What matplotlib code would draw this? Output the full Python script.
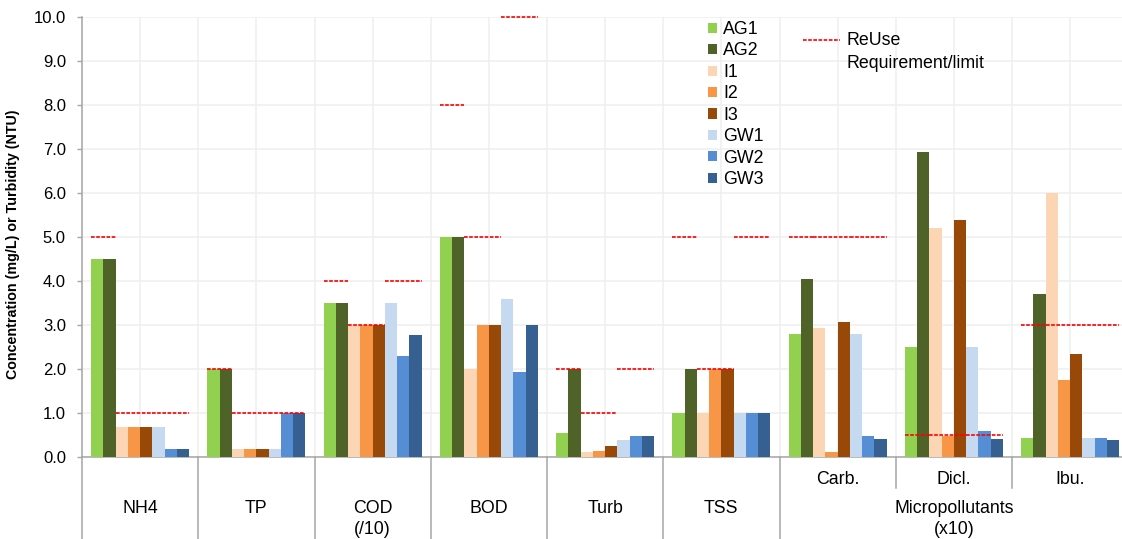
import numpy as np
import matplotlib
matplotlib.use("Agg")
import matplotlib.pyplot as plt
from matplotlib.lines import Line2D
from matplotlib.transforms import blended_transform_factory

plt.rcParams["font.family"] = ["Liberation Sans", "DejaVu Sans"]

# Parameters (COD shown /10, micropollutants shown x10)
categories = ["NH4", "TP", "COD\n(/10)", "BOD", "Turb", "TSS", "Carb.", "Dicl.", "Ibu."]
micro_label = "Micropollutants\n(x10)"
n_main = 6  # first six categories are single-level; the rest sit under the micropollutant group

series_names = ["AG1", "AG2", "I1", "I2", "I3", "GW1", "GW2", "GW3"]
ag1 = [4.5, 2.0, 3.5, 5.0, 0.55, 1.0, 2.8, 2.5, 0.43]
ag2 = [4.5, 2.0, 3.5, 5.0, 2.0, 2.0, 4.05, 6.93, 3.72]
i1 = [0.7, 0.2, 3.0, 2.0, 0.13, 1.0, 2.95, 5.2, 6.0]
i2 = [0.7, 0.2, 3.0, 3.0, 0.15, 2.0, 0.12, 0.48, 1.75]
i3 = [0.7, 0.2, 3.0, 3.0, 0.26, 2.0, 3.08, 5.4, 2.35]
gw1 = [0.7, 0.2, 3.5, 3.6, 0.4, 1.0, 2.8, 2.5, 0.43]
gw2 = [0.2, 1.0, 2.3, 1.95, 0.49, 1.0, 0.48, 0.6, 0.43]
gw3 = [0.2, 1.0, 2.78, 3.0, 0.49, 1.0, 0.42, 0.42, 0.4]

# Reuse requirement / limit for each water type
ag_limit = [5.0, 2.0, 4.0, 8.0, 2.0, 5.0, 5.0, 0.5, 3.0]
i_limit = [1.0, 1.0, 3.0, 5.0, 1.0, 2.0, 5.0, 0.5, 3.0]
gw_limit = [1.0, 1.0, 4.0, 10.0, 2.0, 5.0, 5.0, 0.5, 3.0]

y_ticks = np.arange(0, 10.01, 1.0)

colors = ["#92D050", "#4F6228", "#FCD5B4", "#F79646", "#984807",
          "#C5D9F1", "#558ED5", "#366092"]
series = [ag1, ag2, i1, i2, i3, gw1, gw2, gw3]

W, H = 1122, 539
fig = plt.figure(figsize=(W / 100, H / 100), dpi=100)
ax = fig.add_axes([82 / W, (H - 457.3) / H, 1046.25 / W, 440 / H])

x = np.arange(len(categories))
bw = 0.843 / len(series)
offsets = (np.arange(len(series)) - (len(series) - 1) / 2) * bw

bars = []
for k, (vals, c, name) in enumerate(zip(series, colors, series_names)):
    b = ax.bar(x + offsets[k], vals, width=bw, color=c, label=name, zorder=3,
               linewidth=0)
    bars.append(b)

# Limit segments: AG over bars 0-1, I over bars 2-4, GW over bars 5-7
red = "#FF0000"
spans = [(0, 1, ag_limit), (2, 4, i_limit), (5, 7, gw_limit)]
for lo, hi, lim in spans:
    ax.hlines(lim, x + offsets[lo] - bw / 2, x + offsets[hi] + bw / 2,
              colors=red, linestyles=(0, (2.2, 0.9)), linewidth=1.2,
              zorder=5, clip_on=False)

ax.set_xlim(-0.5, len(categories) - 0.5)
ax.set_ylim(0, 10)
ax.set_yticks(y_ticks)
ax.set_yticklabels([f"{v:.1f}" for v in y_ticks], fontsize=12, color="#000000")
ax.tick_params(axis="y", direction="out", length=3.6, width=1, color="#A6A6A6", pad=8)
ax.set_xticks([])
ax.set_xticks(np.arange(-0.5, len(categories) - 0.4, 0.5), minor=True)
ax.tick_params(axis="x", which="both", length=0, labelbottom=False)

ax.grid(axis="y", which="major", color="#EFEFEF", linewidth=1.1, zorder=0)
ax.grid(axis="x", which="minor", color="#EFEFEF", linewidth=1.1, zorder=0)
ax.set_axisbelow(True)

for s in ["top", "right"]:
    ax.spines[s].set_visible(False)
for s in ["left", "bottom"]:
    ax.spines[s].set_color("#A6A6A6")
    ax.spines[s].set_linewidth(1.1)

ax.set_ylabel("Concentration (mg/L) or Turbidity (NTU)", fontsize=10.3,
              fontweight="bold", labelpad=14)
ax.yaxis.set_label_coords(-0.059, 0.485)

# Multi-level category axis below the plot
tr = blended_transform_factory(ax.transData, ax.transAxes)
y_bottom = -81.7 / 440
y_sub = -(488 - 457.3) / 440
sep_kw = dict(color="#A6A6A6", linewidth=1.1, transform=tr, clip_on=False)
for b in np.arange(-0.5, n_main + 0.5, 1.0):
    ax.add_line(Line2D([b, b], [0, y_bottom], **sep_kw))
for b in np.arange(n_main + 0.5, len(categories) - 0.5, 1.0):
    ax.add_line(Line2D([b, b], [0, y_sub], **sep_kw))

lab_kw = dict(transform=tr, ha="center", va="top", fontsize=12.8,
              linespacing=1.28, clip_on=False)
for i, name in enumerate(categories[:n_main]):
    ax.text(i, -(500 - 457.3) / 440, name, **lab_kw)
for i, name in enumerate(categories[n_main:], start=n_main):
    ax.text(i, -(471 - 457.3) / 440, name, **lab_kw)
ax.text((n_main + len(categories) - 1) / 2, -(500 - 457.3) / 440, micro_label, **lab_kw)

# Legends
leg = ax.legend(handles=bars, labels=series_names, loc="upper left",
                bbox_to_anchor=(708 / W, 1 - 21 / H), bbox_transform=fig.transFigure,
                frameon=False, fontsize=12.8, borderpad=0, borderaxespad=0,
                handlelength=0.5, handleheight=0.5, handletextpad=0.35,
                labelspacing=0.25)

fig.add_artist(Line2D([803 / W, 840 / W], [1 - 40 / H, 1 - 40 / H], color=red,
                      linestyle=(0, (2.2, 0.9)), linewidth=1.2,
                      transform=fig.transFigure))
fig.text(846 / W, 1 - 32 / H, "ReUse\nRequirement/limit", ha="left", va="top",
         fontsize=12.8, linespacing=1.5)

fig.savefig("out.png", dpi=100)
